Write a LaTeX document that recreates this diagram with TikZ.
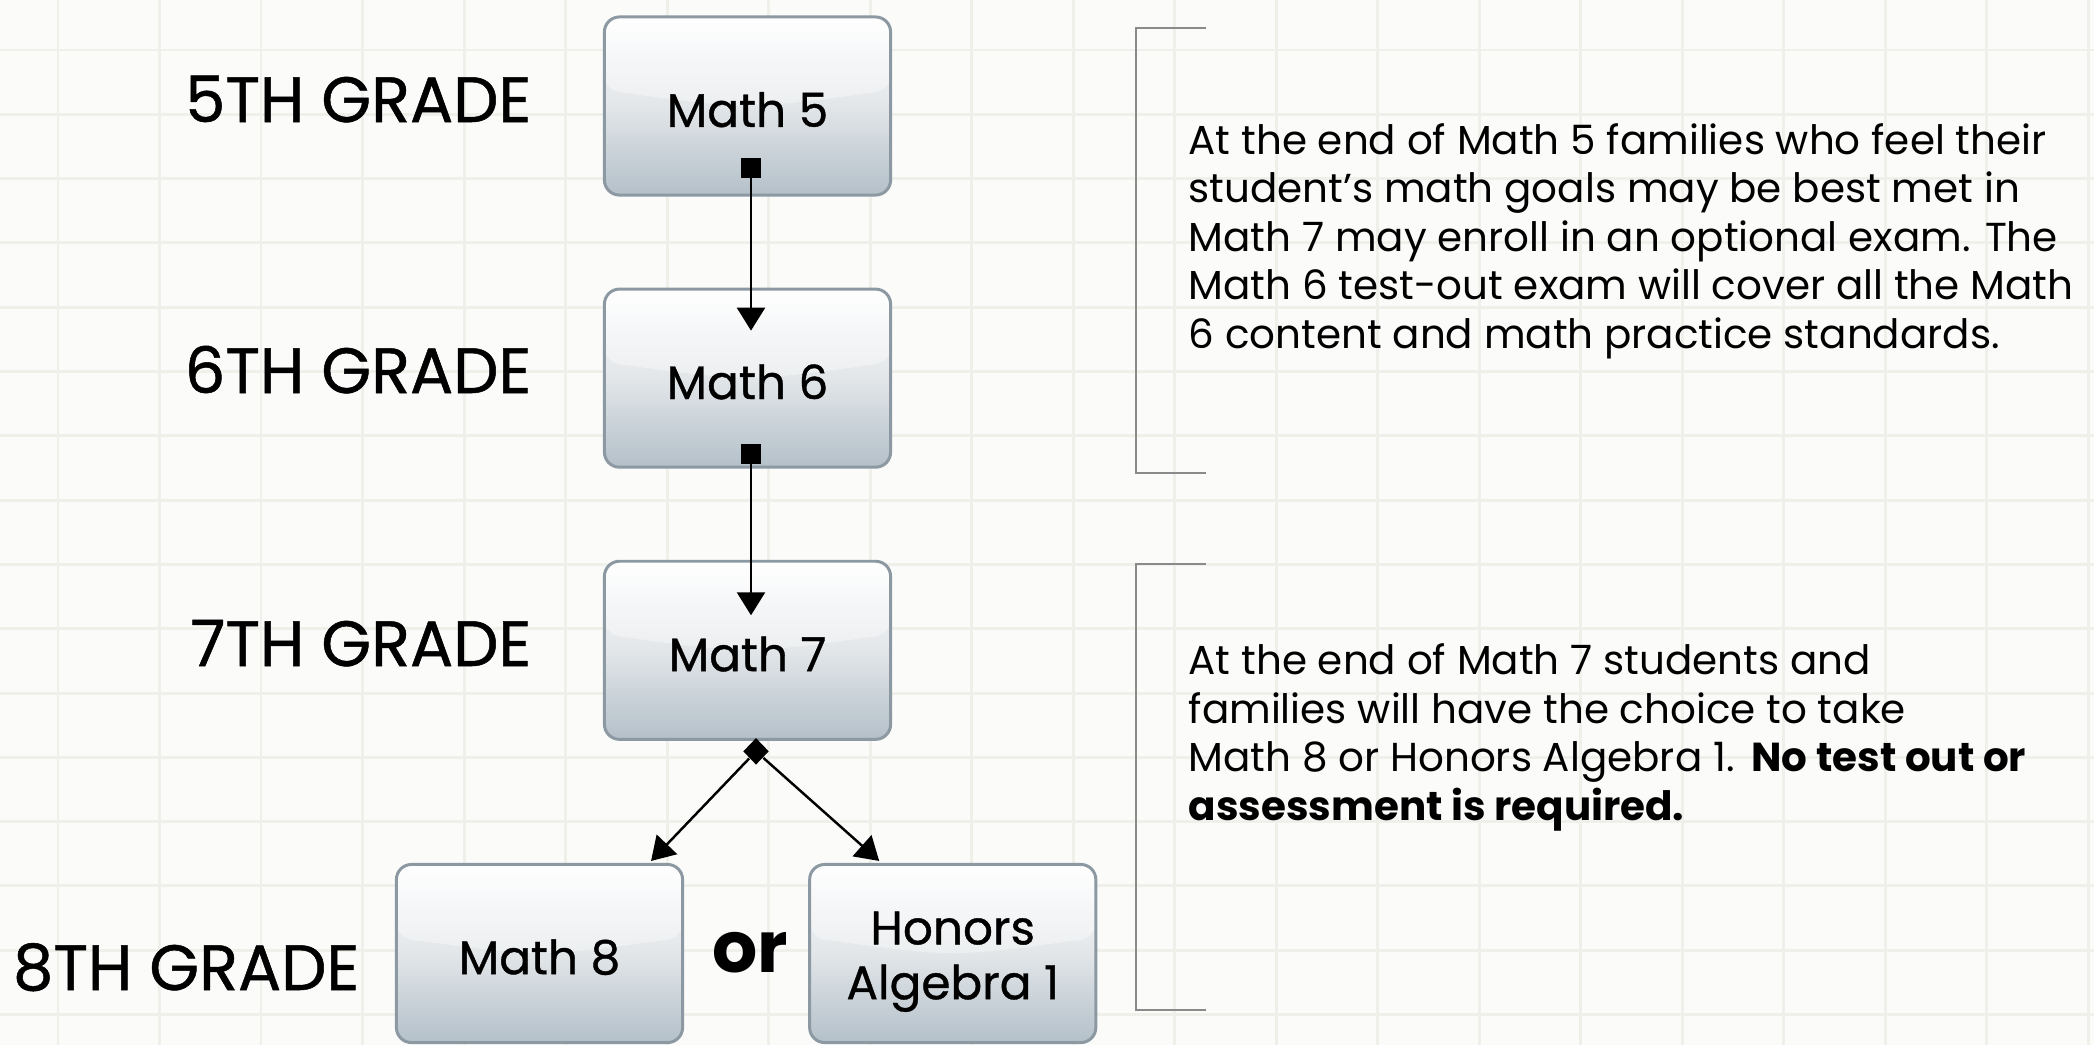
\documentclass[tikz,border=0pt]{standalone}
\usepackage{fontspec}
\setmainfont{Poppins}
\newfontfamily\mediumfont[FakeBold = 0.8]{Poppins}
\usetikzlibrary{arrows.meta, shapes.geometric, positioning}
\definecolor{paper}{HTML}{FBFCFA}
\definecolor{gridline}{HTML}{EEF0E9}
\definecolor{boxedge}{HTML}{8D99A2}
\definecolor{boxtop}{HTML}{FFFFFF}
\definecolor{boxmid}{HTML}{E2E6E9}
\definecolor{boxbottom}{HTML}{B4C0C9}
\definecolor{bracketgray}{HTML}{8A8A8A}
\tikzset{
	course map/.cd,
	box/.style = {
		draw = boxedge,
		line width = 0.85pt,
		rounded corners = 0.15cm,
		top color = boxtop,
		bottom color = boxbottom,
		middle color = boxmid,
		minimum width = 2.86cm,
		minimum height = 1.78cm,
		align = center,
		font = \mediumfont\fontsize{13.35}{15.6}\selectfont,
		execute at begin node = \rule{0pt}{12pt},
		path picture = {
			\fill[white, fill opacity = 0.35] (path picture bounding box.north west) -- (path picture bounding box.north east) -- ([yshift = 0.16cm]path picture bounding box.east) .. controls ([yshift = -0.04cm]path picture bounding box.center) .. ([yshift = 0.16cm]path picture bounding box.west) -- cycle;
		}
	},
	link/.style = {
		line width = 0.7pt,
		{Square[length = 0.2cm, width = 0.2cm]}-{Triangle[length = 0.23cm, width = 0.28cm]}
	},
	branch/.style = {
		line width = 0.7pt,
		-{Triangle[length = 0.23cm, width = 0.28cm]}
	},
	junction/.style = {
		diamond,
		fill = black,
		inner sep = 0pt,
		minimum width = 0.26cm,
		minimum height = 0.27cm
	},
}

\begin{document}
\begin{tikzpicture}[
		x = 0.01cm, y = -0.01cm,
		grade/.style = {
			font = \mediumfont\fontsize{18.2}{22}\selectfont,
			anchor = base east,
			inner sep = 0pt
		},
		note/.style = {
			font = \fontsize{11.5}{13.75}\selectfont,
			anchor = base west,
			align = left,
			inner sep = 0pt
		},
		bracket/.style = {
			draw = bracketgray,
			line width = 0.6pt
		}]
		\def\xmax{2094}
		\def\ymax{1045}
		\useasboundingbox (0, 0) rectangle (\xmax, \ymax);
		\fill[paper] (0, 0) rectangle (\xmax, \ymax);
		\foreach \i [evaluate = \i as \x using 58 + 101.5 * \i] in {0, ..., 20}{
			\draw[gridline, line width = 0.85pt] (\x, 0) -- (\x, \ymax);
		}
		\foreach \j [evaluate = \j as \y using 50 + 64.3 * \j] in {0, ..., 15}{
			\draw[gridline, line width = 0.85pt] (0, \y) -- (\xmax, \y);
		}

		\node[course map/box] (m5) at (747.5, 106) {Math 5};
		\node[course map/box, below = 0.91cm of m5] (m6) {Math 6};
		\node[course map/box, below = 0.91cm of m6] (m7) {Math 7};
		\node[course map/box] (m8) at (539.5, 953.5) {Math 8};
		\node[course map/box, right = 1.24cm of m8] (honors) {\rule{0pt}{14pt}Honors\\Algebra 1};
		\node[font = \fontsize{20.2}{24}\selectfont\bfseries, anchor = base, inner sep = 0pt] (or) at (750, 972) {or};

		\node[grade] (g5) at (532, 122) {5TH GRADE};
		\node[grade] (g6) at (532, 393) {6TH GRADE};
		\node[grade] (g7) at (532, 666) {7TH GRADE};
		\node[grade] (g8) at (360, 990) {8TH GRADE};

		\draw[course map/link] ([xshift = 0.035cm, yshift = 0.39cm]m5.south) -- ([xshift = 0.035cm, yshift = -0.43cm]m6.north);
		\draw[course map/link] ([xshift = 0.035cm, yshift = 0.245cm]m6.south) -- ([xshift = 0.035cm, yshift = -0.555cm]m7.north);
		\node[course map/junction] (fork) at ([xshift = 0.085cm, yshift = -0.105cm]m7.south) {};
		\draw[course map/branch] (fork) -- ([xshift = -0.33cm, yshift = 0.02cm]m8.north east);
		\draw[course map/branch] (fork) -- ([xshift = 0.71cm, yshift = 0.02cm]honors.north west);

		\draw[bracket] (1206, 28) -| (1136, 473) -- (1206, 473);
		\draw[bracket] (1206, 564) -| (1136, 1010) -- (1206, 1010);

		\node[note] (test out) at (1188, 348) {At the end of Math 5 families who feel their\\student’s math goals may be best met in\\Math 7 may enroll in an optional exam. The\\Math 6 test-out exam will cover all the Math\\6 content and math practice standards.};
		\node[note] (choice) at (1188, 820) {At the end of Math 7 students and\\families will have the choice to take\\Math 8 or Honors Algebra 1.\hspace{0.42em}\textbf{No test out or}\\\textbf{assessment is required.}};
	\end{tikzpicture}
\end{document}
